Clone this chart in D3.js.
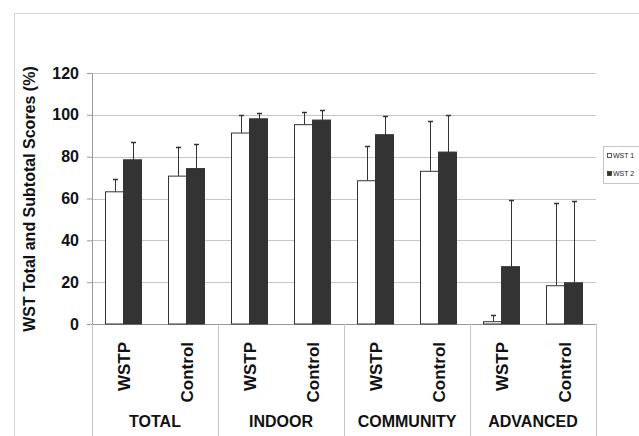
<!DOCTYPE html>
<html>
<head>
<meta charset="utf-8">
<script src="https://cdn.jsdelivr.net/npm/d3@7"></script>
<style>
  body { margin: 0; background: #fff; }
  text { font-family: "Liberation Sans", Arial, sans-serif; }
</style>
</head>
<body>
<div id="my_dataviz"></div>
<script>
// data
var groups = ["TOTAL", "INDOOR", "COMMUNITY", "ADVANCED"];
var subgroups = ["WSTP", "Control"];
var series = ["WST 1", "WST 2"];

// means, one row per group, order: WSTP, Control
var wst1 = [[63.2, 70.7], [91.3, 95.3], [68.5, 73.0], [1.1, 18.3]];
var wst2 = [[78.5, 74.3], [98.1, 97.5], [90.5, 82.2], [27.4, 19.7]];
// upper end of the error bars
var wst1Err = [[69.3, 84.8], [99.7, 101.2], [84.9, 97.0], [4.1, 57.8]];
var wst2Err = [[86.8, 86.0], [100.7, 102.1], [99.4, 99.7], [59.3, 58.6]];

var yTicks = [0, 20, 40, 60, 80, 100, 120];

var W = 639, H = 436;
var margin = { top: 73, left: 92, right: 43, bottom: 112 },
    width = W - margin.left - margin.right,
    height = H - margin.top - margin.bottom;

var svg0 = d3.select("#my_dataviz")
    .append("svg")
    .attr("width", W)
    .attr("height", H);

// outer chart frame (only top and left edges are in view)
svg0.append("path")
    .attr("d", "M14.5," + H + "V13.5H" + W)
    .attr("fill", "none")
    .attr("stroke", "#d4d4d4");

var svg = svg0.append("g")
    .attr("transform", "translate(" + margin.left + "," + margin.top + ")");

var x0 = d3.scaleBand().domain(groups).range([0, width]);
var x1 = d3.scaleBand().domain(subgroups).range([0, x0.bandwidth()]);
var x2 = d3.scaleBand().domain(series).range([0, x1.bandwidth()]).paddingOuter(0.75);
var y = d3.scaleLinear().domain([0, 120]).range([height, 0]);

// gridlines
svg.append("g")
    .selectAll("line")
    .data(yTicks.slice(1))
    .enter()
    .append("line")
    .attr("x1", 0)
    .attr("x2", width)
    .attr("y1", d => Math.round(y(d)) + 0.5)
    .attr("y2", d => Math.round(y(d)) + 0.5)
    .attr("stroke", "#c6c6c6");

// Y axis
var yAxis = svg.append("g")
    .call(d3.axisLeft(y).tickValues(yTicks).tickSize(5).tickPadding(8));
yAxis.select(".domain").attr("stroke", "#9a9a9a");
yAxis.selectAll(".tick line").attr("stroke", "#9a9a9a");
yAxis.selectAll(".tick text")
    .attr("font-family", "Liberation Sans, Arial, sans-serif")
    .attr("font-size", "16px")
    .attr("font-weight", "bold")
    .attr("fill", "#111");

// baseline
svg.append("line")
    .attr("x1", 0).attr("x2", width)
    .attr("y1", height + 0.5).attr("y2", height + 0.5)
    .attr("stroke", "#9a9a9a");

// group separators below the axis
svg.append("g")
    .selectAll("line")
    .data(groups.map(g => x0(g)).concat([width]))
    .enter()
    .append("line")
    .attr("x1", d => Math.round(d) + 0.5)
    .attr("x2", d => Math.round(d) + 0.5)
    .attr("y1", height)
    .attr("y2", H - margin.top)
    .attr("stroke", "#c6c6c6");

// flatten bars
var rows = [];
groups.forEach(function (g, gi) {
    subgroups.forEach(function (s, si) {
        rows.push({ g: g, s: s, k: "WST 1", v: wst1[gi][si], e: wst1Err[gi][si] });
        rows.push({ g: g, s: s, k: "WST 2", v: wst2[gi][si], e: wst2Err[gi][si] });
    });
});

function bx(d) { return x0(d.g) + x1(d.s) + x2(d.k); }

// error bars (upper only)
var err = svg.append("g").selectAll("g").data(rows).enter().append("g")
    .attr("stroke", "#333")
    .attr("stroke-width", 1);
err.append("line")
    .attr("x1", d => Math.round(bx(d) + x2.bandwidth() / 2) + 0.5)
    .attr("x2", d => Math.round(bx(d) + x2.bandwidth() / 2) + 0.5)
    .attr("y1", d => y(d.v))
    .attr("y2", d => y(d.e));
err.append("line")
    .attr("x1", d => Math.round(bx(d) + x2.bandwidth() / 2) - 2)
    .attr("x2", d => Math.round(bx(d) + x2.bandwidth() / 2) + 3)
    .attr("y1", d => Math.round(y(d.e)) + 0.5)
    .attr("y2", d => Math.round(y(d.e)) + 0.5)
    .attr("stroke-width", 1.5);

// bars
svg.append("g")
    .selectAll("rect")
    .data(rows)
    .enter()
    .append("rect")
    .attr("x", d => bx(d))
    .attr("y", d => y(d.v))
    .attr("width", x2.bandwidth())
    .attr("height", d => height - y(d.v))
    .attr("fill", d => d.k === "WST 1" ? "#fff" : "#333")
    .attr("stroke", "#333")
    .attr("stroke-width", 1);

// sub category labels (rotated)
var subLab = [];
groups.forEach(g => subgroups.forEach(s => subLab.push({ g: g, s: s })));
svg.append("g")
    .selectAll("text")
    .data(subLab)
    .enter()
    .append("text")
    .text(d => d.s)
    .attr("transform", d => "translate(" + (x0(d.g) + x1(d.s) + x1.bandwidth() / 2 + 6) + "," + (height + 18) + ") rotate(-90)")
    .attr("text-anchor", "end")
    .attr("font-size", "17px")
    .attr("font-weight", "bold")
    .attr("fill", "#111");

// group labels
svg.append("g")
    .selectAll("text")
    .data(groups)
    .enter()
    .append("text")
    .text(d => d)
    .attr("x", d => x0(d) + x0.bandwidth() / 2)
    .attr("y", height + 103)
    .attr("text-anchor", "middle")
    .attr("font-size", "16px")
    .attr("font-weight", "bold")
    .attr("fill", "#111");

// Y axis title
svg0.append("text")
    .text("WST Total and Subtotal Scores (%)")
    .attr("transform", "translate(35,199) rotate(-90)")
    .attr("text-anchor", "middle")
    .attr("font-size", "16px")
    .attr("font-weight", "bold")
    .attr("fill", "#111");

// legend
var lg = svg0.append("g").attr("transform", "translate(603,146)");
lg.append("rect")
    .attr("x", 0.5).attr("y", 0.5)
    .attr("width", 60).attr("height", 37)
    .attr("fill", "#fff")
    .attr("stroke", "#c6c6c6");
var li = lg.selectAll(".li").data(series).enter().append("g")
    .attr("transform", (d, i) => "translate(4," + (7 + i * 18) + ")");
li.append("rect")
    .attr("width", 4).attr("height", 4)
    .attr("x", 0.5).attr("y", 0.5)
    .attr("fill", (d, i) => i === 0 ? "#fff" : "#333")
    .attr("stroke", "#333")
    .attr("stroke-width", 0.8);
li.append("text")
    .text(d => d)
    .attr("x", 6)
    .attr("y", 5)
    .attr("font-size", "7px")
    .attr("fill", "#222");
</script>
</body>
</html>
